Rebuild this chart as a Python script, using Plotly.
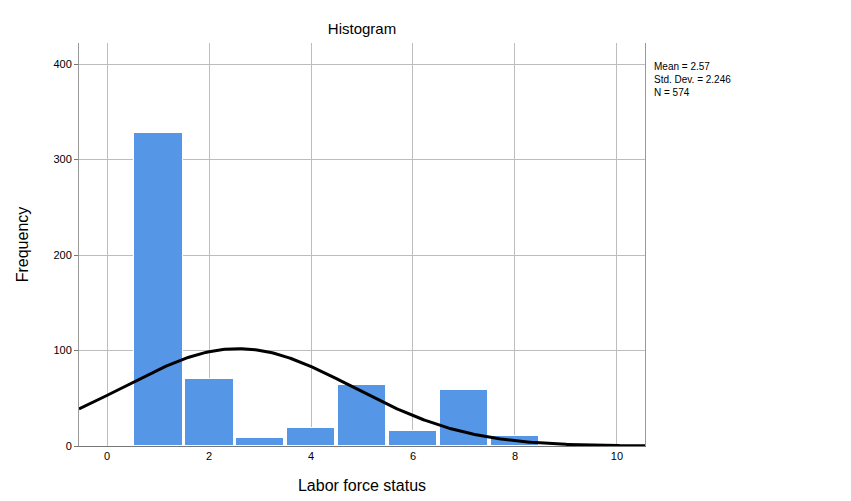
import numpy as np
import plotly.graph_objects as go

categories = [1, 2, 3, 4, 5, 6, 7, 8]
frequencies = [328, 70, 8, 19, 64, 16, 59, 10]
mean_val = 2.57
sd_val = 2.246
n_val = 574
x_ticks = [0, 2, 4, 6, 8, 10]
y_ticks = [0, 100, 200, 300, 400]

xs = np.linspace(-0.55, 10.55, 300)
ys = n_val * 1.0 / (sd_val * np.sqrt(2 * np.pi)) * np.exp(-0.5 * ((xs - mean_val) / sd_val) ** 2)

fig = go.Figure()
fig.add_bar(x=categories, y=frequencies, width=0.96, marker=dict(color="#5596E6", line=dict(color="white", width=1)))
fig.add_scatter(x=xs, y=ys, mode="lines", line=dict(color="black", width=3))
fig.update_layout(
    width=851, height=501, showlegend=False,
    paper_bgcolor="white", plot_bgcolor="white",
    margin=dict(l=71, r=214, t=35, b=63),
    font=dict(family="Arial, Liberation Sans", color="black"),
    title=dict(text="Histogram", x=0.5, xref="paper", y=0.958, yanchor="middle", font=dict(size=15)),
    xaxis=dict(range=[-0.55, 10.55], tickvals=x_ticks, showgrid=True, gridcolor="#BDBDBD",
               showline=True, linecolor="#777777", mirror=False, ticks="", zeroline=False, automargin=False,
               tickfont=dict(size=11), title=dict(text="Labor force status", font=dict(size=16), standoff=18)),
    yaxis=dict(range=[0, 422], tickvals=y_ticks, showgrid=True, gridcolor="#BDBDBD",
               showline=True, linecolor="#999999", mirror=True, ticks="outside", ticklen=4, tickcolor="#777777",
               zeroline=False, automargin=False, tickfont=dict(size=11),
               title=dict(text="Frequency", font=dict(size=16), standoff=20)),
    bargap=0,
    annotations=[dict(x=1.012, y=0.96, xref="paper", yref="paper", xanchor="left", yanchor="top",
                      align="left", showarrow=False, font=dict(size=10),
                      text=f"Mean = {mean_val}<br>Std. Dev. = {sd_val}<br>N = {n_val}")],
)
fig.write_html("out.html")
